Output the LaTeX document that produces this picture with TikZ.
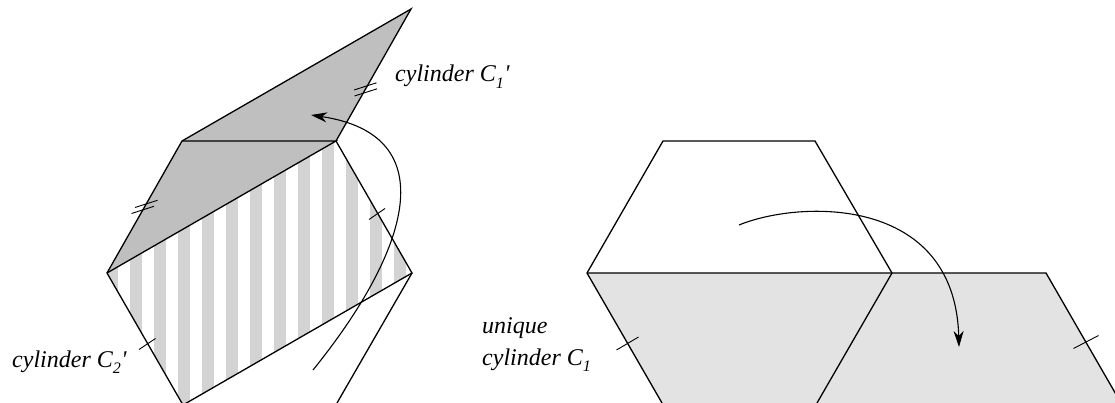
\documentclass[tikz,border=0pt]{standalone}
\usepackage{fontspec}
\setmainfont{Liberation Serif}
\newfontfamily\primefont{Liberation Serif}[Ligatures=TeXOff]
\usetikzlibrary{arrows.meta}
\definecolor{darkfill}{HTML}{BFBFBF}
\definecolor{stripegray}{HTML}{D3D3D3}
\definecolor{lightfill}{HTML}{E3E3E3}
\newcommand\sbs[1]{\raisebox{-0.28em}{\fontsize{16}{16}\selectfont #1}}
\newcommand\prm{{\primefont\itshape\kern0.5pt'}}
\begin{document}
\begin{tikzpicture}[x=1pt,y=-1pt,
  edge/.style={line width=1.3pt, line join=miter},
  tickmark/.style={line width=0.9pt},
  curvearrow/.style={line width=1.1pt, -{Stealth[length=16pt,width=10pt,inset=5pt]}},
  lbl/.style={anchor=base west, inner sep=0pt, font=\fontsize{24}{28}\selectfont\itshape}]
\useasboundingbox (0,0) rectangle (1115,403);
% left figure
\coordinate (T) at (411,9);
\coordinate (A) at (182,141);
\coordinate (B) at (336,141);
\coordinate (L) at (107,273);
\coordinate (R) at (412,273);
\coordinate (D) at (183,405);
\coordinate (E) at (337,403);
\fill[darkfill] (T)--(B)--(L)--(A)--cycle;
\begin{scope}
  \clip (L)--(B)--(R)--(D)--cycle;
  \foreach \i in {0,...,13} \fill[stripegray] ({106+24*\i},100) rectangle ++(12,320);
\end{scope}
\draw[edge] (T)--(B)--(R)--(D)--(L)--(A)--cycle;
\draw[edge] (A)--(B)--(L);
\draw[edge] (R)--(E);
% ticks left
\draw[tickmark] (354,90) -- ++(22.5,-7.2);
\draw[tickmark] (354.5,96) -- ++(22.5,-7.2);
\draw[tickmark] (135,207.5) -- ++(22.5,-7.2);
\draw[tickmark] (131.5,213.5) -- ++(22.5,-7.2);
\draw[tickmark] (369,219.5) -- ++(16,-11);
\draw[tickmark] (139,349.5) -- ++(16.5,-11);
% left arrow
\coordinate (la0) at (313,370);
\coordinate (la1) at (311,115);
\draw[curvearrow] (la0) .. controls (410,250) and (445,135) .. (la1);
% right figure
\coordinate (P1) at (663,141);
\coordinate (P2) at (815,141);
\coordinate (P3) at (892,273);
\coordinate (P4) at (587,273);
\coordinate (P5) at (1046,273);
\coordinate (P6) at (662,403);
\coordinate (P7) at (817,403);
\coordinate (P8) at (1121,403);
\fill[lightfill] (P4)--(P5)--(P8)--(P6)--cycle;
\draw[edge] (P3)--(P2)--(P1)--(P4)--(P6);
\draw[edge] (P4)--(P5)--(P8);
\draw[edge] (P3)--(P7);
\draw[tickmark] (616.5,350) -- ++(22,-13);
\draw[tickmark] (1073.5,348.5) -- ++(25,-13);
% right arrow
\coordinate (ra0) at (739,225);
\coordinate (ra1) at (959,347);
\draw[curvearrow] (ra0) .. controls (800,200) and (955,195) .. (ra1);
% labels
\node[lbl] (c1p) at (395,82) {cylinder C\sbs{1}\prm};
\node[lbl] (c2p) at (12,367) {cylinder C\sbs{2}\prm};
\node[lbl] (u1) at (482,333) {unique};
\node[lbl] (c1) at (482,365) {cylinder C\sbs{1}};
\end{tikzpicture}
\end{document}
